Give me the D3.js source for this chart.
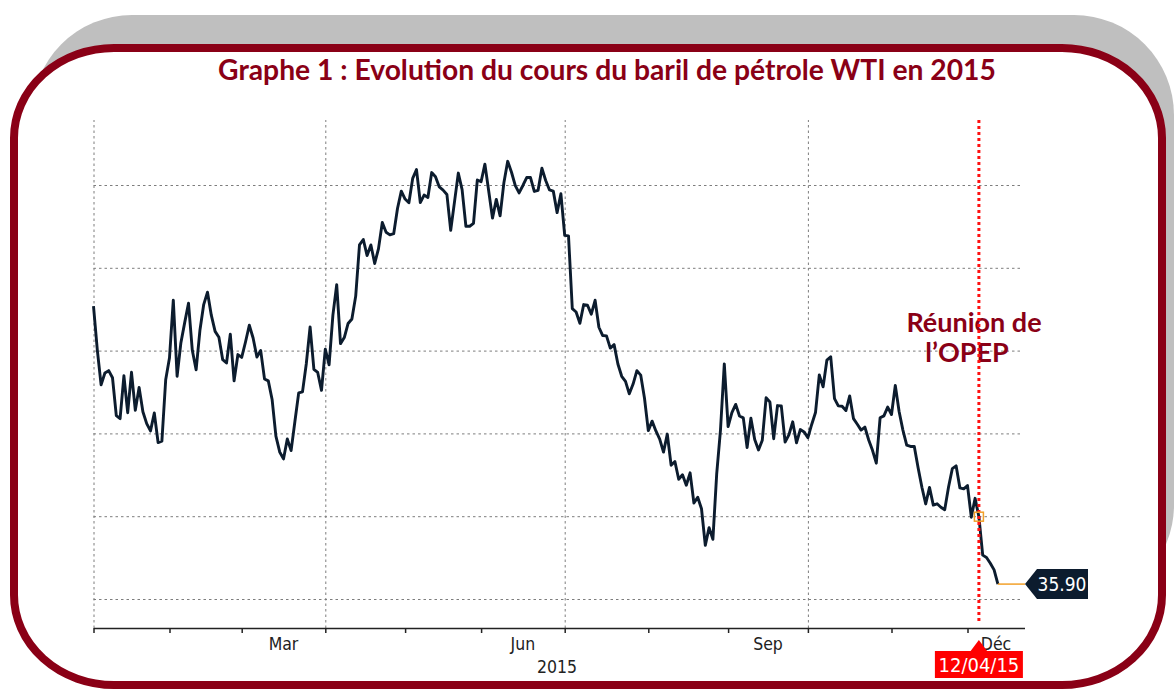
<!DOCTYPE html>
<html>
<head>
<meta charset="utf-8">
<script src="https://cdn.jsdelivr.net/npm/d3@7.9.0/dist/d3.min.js"></script>
<style>
  body { margin: 0; background: #fff; }
  svg { display: block; }
</style>
</head>
<body>
<svg id="chart" width="1174" height="689"></svg>
<script>
// WTI daily closes, 2015, one array per month (trading days only)
const jan = [52.69, 50.04, 47.93, 48.65, 48.79, 48.36, 46.07, 45.89, 48.48, 46.25,
             48.69, 46.39, 47.78, 46.31, 45.59, 45.15, 46.23, 44.45, 44.53, 48.24];
const feb = [49.57, 53.05, 48.45, 50.48, 51.69, 52.86, 50.02, 48.84, 51.21, 52.78,
             53.53, 52.14, 51.16, 50.81, 49.45, 49.25, 50.99, 48.17, 49.76];
const mar = [49.59, 50.52, 51.53, 50.76, 49.61, 50.00, 48.29, 48.17, 47.05, 44.84,
             43.88, 43.46, 44.66, 43.96, 45.72, 47.45, 47.51, 49.21, 51.43, 48.87,
             48.68, 47.60];
const apr = [50.09, 49.14, 52.14, 53.98, 50.42, 50.79, 51.64, 51.91, 53.29, 56.39,
             56.71, 55.74, 56.38, 55.26, 56.16, 57.74, 57.15, 56.99, 57.06, 58.58,
             59.63];
const may = [59.15, 58.93, 60.40, 60.93, 58.94, 59.39, 59.25, 60.75, 60.50, 59.88,
             59.69, 59.43, 57.26, 58.98, 60.72, 59.72, 57.51, 57.51, 57.68, 60.30];
const jun = [60.20, 61.26, 59.64, 58.00, 59.13, 58.14, 60.14, 61.43, 60.77, 59.96,
             59.52, 59.97, 60.45, 60.45, 59.61, 59.68, 61.01, 60.27, 59.70, 59.63,
             58.33, 59.47];
const jul = [56.96, 56.93, 52.53, 52.33, 51.65, 52.78, 52.74, 52.20, 53.04, 51.41,
             50.91, 50.89, 50.15, 50.36, 49.19, 48.45, 48.14, 47.39, 47.98, 48.79,
             48.52, 47.12];
const aug = [45.17, 45.74, 45.15, 44.66, 43.87, 44.96, 43.08, 43.30, 42.23, 42.50,
             41.87, 42.62, 40.80, 41.14, 40.45, 38.24, 39.31, 38.60, 42.56, 45.22,
             49.20];
const sep = [45.41, 46.25, 46.75, 46.05, 45.94, 44.15, 45.92, 44.63, 44.00, 44.59,
             47.15, 46.90, 44.68, 46.68, 46.66, 44.48, 44.91, 45.70, 44.43, 45.23,
             45.09];
const oct = [44.74, 45.54, 46.26, 48.53, 47.81, 49.43, 49.63, 47.10, 46.66, 46.64,
             46.38, 47.26, 45.89, 45.55, 45.20, 45.38, 44.60, 43.98, 43.20, 45.94,
             46.06, 46.59];
const nov = [46.14, 47.90, 46.32, 45.20, 44.29, 44.21, 44.21, 42.93, 41.75, 40.74,
             41.74, 40.67, 40.75, 40.54, 40.39, 41.75, 42.87, 43.04, 41.71, 41.65];
const dec = [41.85, 39.94, 41.08, 39.97, 37.65, 37.51, 37.16, 36.76, 35.90];

const monthNames = ["Jan", "Fév", "Mar", "Avr", "Mai", "Jun", "Jul", "Aoû", "Sep", "Oct", "Nov", "Déc"];
const shownMonths = ["Mar", "Jun", "Sep", "Déc"];
const gridMonths = ["Jan", "Avr", "Jul", "Oct"];
const gridValues = [35, 40, 45, 50, 55, 60];
const yearLabel = "2015";
const meetingDate = "12/04/15";
const meetingDayOfDec = 3;      // 4th trading day of december
const lastLabel = "35.90";
const totalDays = 245;          // trading days covered by the axis

const title = "Graphe 1 : Evolution du cours du baril de pétrole WTI en 2015";
const note = ["Réunion de", "l\u2019OPEP"];

const months = [jan, feb, mar, apr, may, jun, jul, aug, sep, oct, nov, dec];
const prices = months.flat();
let starts = [];
let acc = 0;
months.forEach(m => { starts.push(acc); acc += m.length; });

const red = "#8a0016";
const navy = "#0c1c2e";

const svg = d3.select("#chart");

// frame: grey back card + red rounded border
svg.append("rect")
   .attr("x", 32).attr("y", 15).attr("width", 1142).attr("height", 590)
   .attr("rx", 100).attr("ry", 100)
   .attr("fill", "#bfbfbf");
svg.append("rect")
   .attr("x", 14).attr("y", 48).attr("width", 1148).attr("height", 637)
   .attr("rx", 100).attr("ry", 90)
   .attr("fill", "#fff")
   .attr("stroke", red)
   .attr("stroke-width", 8);

// title, fitted to its width in the picture
let t = svg.append("text")
   .attr("x", 607).attr("y", 80)
   .attr("text-anchor", "middle")
   .attr("fill", red)
   .style("font-family", "Lato, 'Open Sans', sans-serif")
   .style("font-weight", "bold")
   .style("font-size", "24px")
   .text(title);
let w = t.node().getComputedTextLength();
t.style("font-size", (24 * 778 / w) + "px");

const x = d3.scaleLinear().domain([0, totalDays]).range([93.5, 93.5 + totalDays * 3.8]);
const y = d3.scaleLinear().domain([35, 60]).range([599, 185]);

const plotTop = 120, plotBottom = 628, gridRight = 1022;

// horizontal grid
svg.append("g")
   .attr("transform", `translate(${x(0)},0)`)
   .call(d3.axisLeft(y).tickValues(gridValues).tickSize(-(gridRight - x(0))).tickFormat(""))
   .call(g => g.select(".domain").remove())
   .call(g => g.selectAll("line")
       .attr("stroke", "#7d7d7d").attr("stroke-dasharray", "2.5,3"));

// vertical grid, one per quarter
const quarterStarts = gridMonths.map(m => starts[monthNames.indexOf(m)]);
svg.append("g")
   .attr("transform", `translate(0,${plotBottom})`)
   .call(d3.axisBottom(x).tickValues(quarterStarts).tickSize(-(plotBottom - plotTop)).tickFormat(""))
   .call(g => g.select(".domain").remove())
   .call(g => g.selectAll("line")
       .attr("stroke", "#7d7d7d").attr("stroke-dasharray", "2.5,3"));

// x axis with month ticks
svg.append("g")
   .attr("transform", `translate(0,${plotBottom})`)
   .call(d3.axisBottom(x).tickValues(starts).tickSize(5).tickSizeOuter(0).tickFormat(""))
   .call(g => g.select(".domain").attr("stroke", "#222").attr("stroke-width", 1.5))
   .call(g => g.selectAll("line").attr("stroke", "#222").attr("stroke-width", 1.5));

const labelFont = "'DejaVu Sans Condensed', 'DejaVu Sans', sans-serif";
shownMonths.forEach(name => {
  let i = monthNames.indexOf(name);
  let end = i < 11 ? starts[i + 1] : totalDays;
  svg.append("text")
     .attr("x", x((starts[i] + end) / 2)).attr("y", 650)
     .attr("text-anchor", "middle")
     .attr("fill", "#222")
     .style("font-family", labelFont)
     .style("font-size", "17.5px")
     .text(name);
});
svg.append("text")
   .attr("x", 557).attr("y", 673)
   .attr("text-anchor", "middle")
   .attr("fill", "#222")
   .style("font-family", labelFont)
   .style("font-size", "17.5px")
   .text(yearLabel);

// annotation
note.forEach((s, k) => {
  svg.append("text")
     .attr("x", k === 0 ? 974 : 967).attr("y", k === 0 ? 332 : 362)
     .attr("text-anchor", "middle")
     .attr("fill", red)
     .style("font-family", "Lato, 'Open Sans', sans-serif")
     .style("font-weight", "bold")
     .style("font-size", "27px")
     .text(s);
});

// price line
const line = d3.line()
   .x((d, i) => x(i))
   .y(d => y(d));
svg.append("path")
   .datum(prices)
   .attr("d", line)
   .attr("fill", "none")
   .attr("stroke", navy)
   .attr("stroke-width", 2.9)
   .attr("stroke-linejoin", "round");

// OPEC meeting marker
const mi = starts[11] + meetingDayOfDec;
svg.append("line")
   .attr("x1", x(mi)).attr("x2", x(mi))
   .attr("y1", plotTop).attr("y2", plotBottom - 4)
   .attr("stroke", "#ff1010")
   .attr("stroke-width", 3)
   .attr("stroke-dasharray", "3,3");
svg.append("rect")
   .attr("x", x(mi) - 4.5).attr("y", y(prices[mi]) - 4.5)
   .attr("width", 9).attr("height", 9)
   .attr("fill", "none")
   .attr("stroke", "#f2a02a")
   .attr("stroke-width", 1.5);

// date badge under the axis
svg.append("path")
   .attr("d", `M${x(mi) - 9},652 L${x(mi)},640 L${x(mi) + 9},652 Z`)
   .attr("fill", "#ff0000");
svg.append("rect")
   .attr("x", x(mi) - 44).attr("y", 651)
   .attr("width", 88).attr("height", 27)
   .attr("fill", "#ff0000");
svg.append("text")
   .attr("x", x(mi)).attr("y", 672)
   .attr("text-anchor", "middle")
   .attr("fill", "#fff")
   .style("font-family", labelFont)
   .style("font-size", "20px")
   .text(meetingDate);

// last value tag
const li = prices.length - 1;
const ly = y(prices[li]);
svg.append("line")
   .attr("x1", x(li)).attr("x2", 1025)
   .attr("y1", ly).attr("y2", ly)
   .attr("stroke", "#f2a02a")
   .attr("stroke-width", 1.5);
svg.append("path")
   .attr("d", `M1025,${ly} L1037,${ly - 15} L1088,${ly - 15} L1088,${ly + 15} L1037,${ly + 15} Z`)
   .attr("fill", navy);
svg.append("text")
   .attr("x", 1062).attr("y", ly + 7)
   .attr("text-anchor", "middle")
   .attr("fill", "#fff")
   .style("font-family", labelFont)
   .style("font-size", "19px")
   .text(lastLabel);
</script>
</body>
</html>
